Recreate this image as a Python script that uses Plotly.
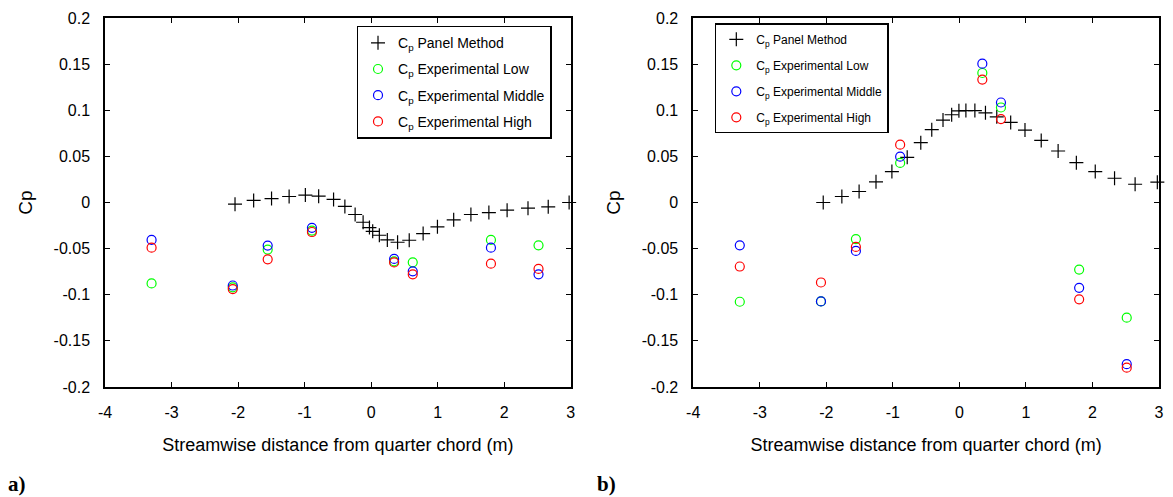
import plotly.graph_objects as go
from plotly.subplots import make_subplots

# ---------------- data ----------------
# experimental tap locations (m from quarter chord)
exp_x = [-3.30, -2.08, -1.555, -0.89, 0.345, 0.625, 1.80, 2.515]

# panel a)
panel_a_x = [-2.046, -1.766, -1.497, -1.233, -0.989, -0.789, -0.565, -0.395, -0.241,
             -0.121, -0.026, 0.023, 0.123, 0.243, 0.397, 0.572, 0.781, 0.996, 1.240,
             1.499, 1.769, 2.043, 2.357, 2.661, 2.975]
panel_a_cp = [-0.0018, 0.0022, 0.0043, 0.0065, 0.0080, 0.0069, 0.0033, -0.0043, -0.0130,
              -0.0214, -0.0272, -0.0312, -0.0355, -0.0406, -0.0431, -0.0409, -0.0337,
              -0.0264, -0.0188, -0.0130, -0.0109, -0.0083, -0.0062, -0.0047, 0.0]
a_low = [-0.0877, -0.092, -0.051, -0.0304, -0.0638, -0.0649, -0.0406, -0.0464]
a_mid = [-0.0406, -0.090, -0.0467, -0.0275, -0.0612, -0.0746, -0.049, -0.0779]
a_high = [-0.049, -0.0938, -0.0616, -0.032, -0.065, -0.0779, -0.0663, -0.072]

# panel b)
panel_b_x = [-2.046, -1.766, -1.507, -1.253, -1.014, -0.784, -0.580, -0.415, -0.246,
             -0.116, -0.007, 0.098, 0.233, 0.392, 0.562, 0.771, 0.986, 1.230, 1.484,
             1.758, 2.042, 2.332, 2.641, 2.975]
panel_b_cp = [0.0, 0.0065, 0.0119, 0.0224, 0.0335, 0.0490, 0.0648, 0.0789, 0.0893,
              0.0951, 0.0994, 0.0997, 0.0997, 0.0972, 0.0929, 0.0868, 0.0785, 0.0673,
              0.0558, 0.0432, 0.0335, 0.0263, 0.0198, 0.0220]
b_low = [-0.1076, -0.1072, -0.0396, 0.0429, 0.1404, 0.1030, -0.0727, -0.1249]
b_mid = [-0.0464, -0.1072, -0.0525, 0.0497, 0.1505, 0.1084, -0.0925, -0.1753]
b_high = [-0.0694, -0.0867, -0.0482, 0.0627, 0.1332, 0.0904, -0.105, -0.179]

series_names = ["C<sub>p</sub> Panel Method", "C<sub>p</sub> Experimental Low",
                "C<sub>p</sub> Experimental Middle", "C<sub>p</sub> Experimental High"]
x_ticks = [-4, -3, -2, -1, 0, 1, 2, 3]
x_tick_text = ["-4", "-3", "-2", "-1", "0", "1", "2", "3"]
y_ticks = [-0.2, -0.15, -0.1, -0.05, 0, 0.05, 0.1, 0.15, 0.2]
y_tick_text = ["-0.2", "-0.15", "-0.1", "-0.05", "0", "0.05", "0.1", "0.15", "0.2"]
x_title = "Streamwise distance from quarter chord (m)"
y_title = "Cp"

colors = ["black", "#00ff00", "#0000ff", "#ff0000"]

W, H = 1173, 497
ML, MR, MT, MB = 105, 9, 18, 110
PW = W - ML - MR
PH = H - MT - MB

fig = make_subplots(rows=1, cols=2)
fig.update_xaxes(domain=[0, (573 - ML) / PW], row=1, col=1)
fig.update_xaxes(domain=[(696 - ML) / PW, 1], row=1, col=2)

panels = [
    (panel_a_x, panel_a_cp, [a_low, a_mid, a_high], "legend", 1),
    (panel_b_x, panel_b_cp, [b_low, b_mid, b_high], "legend2", 2),
]
for px, pcp, exps, leg, col in panels:
    fig.add_trace(go.Scatter(
        x=px, y=pcp, mode="markers", name=series_names[0], legend=leg,
        legendgroup=f"{leg}0", cliponaxis=False,
        marker=dict(symbol="cross-thin-open", size=10, color=colors[0],
                    line=dict(width=1.2, color=colors[0]))), row=1, col=col)
    for i, ys in enumerate(exps):
        fig.add_trace(go.Scatter(
            x=exp_x, y=ys, mode="markers", name=series_names[i + 1], legend=leg,
            legendgroup=f"{leg}{i+1}", cliponaxis=False,
            marker=dict(symbol="circle-open", size=9, color=colors[i + 1],
                        line=dict(width=1.2, color=colors[i + 1]))), row=1, col=col)

axis_font = dict(family="Liberation Sans, Arial, sans-serif", size=16, color="black")
fig.update_xaxes(range=[-4, 3], tickvals=x_ticks, ticktext=x_tick_text, ticks="inside",
                 ticklen=5, tickcolor="black", showline=True, linecolor="black",
                 linewidth=1.5, mirror="ticks", showgrid=False, zeroline=False,
                 tickfont=axis_font, ticklabelstandoff=10,
                 title=dict(text=x_title, font=dict(size=18, family=axis_font["family"],
                                                    color="black"), standoff=18))
fig.update_yaxes(range=[-0.2, 0.2], tickvals=y_ticks, ticktext=y_tick_text,
                 ticks="inside", ticklen=5, tickcolor="black", showline=True,
                 linecolor="black", linewidth=1.5, mirror="ticks", showgrid=False,
                 zeroline=False, tickfont=axis_font, ticklabelstandoff=10,
                 title=dict(text=y_title, font=dict(size=19, family=axis_font["family"],
                                                    color="black"), standoff=16))

fig.update_layout(
    width=W, height=H, margin=dict(l=ML, r=MR, t=MT, b=MB),
    paper_bgcolor="white", plot_bgcolor="white",
    legend=dict(x=(357.7 - ML) / PW, y=(H - MB - 25.7) / PH, xanchor="left",
                yanchor="top", bordercolor="black", borderwidth=1.5,
                bgcolor="white", traceorder="grouped", tracegroupgap=5,
                font=dict(family=axis_font["family"], size=14, color="black")),
    legend2=dict(x=(717.7 - ML) / PW, y=(H - MB - 23.3) / PH, xanchor="left",
                 yanchor="top", bordercolor="black", borderwidth=1.5,
                 bgcolor="white", traceorder="grouped", tracegroupgap=7,
                 font=dict(family=axis_font["family"], size=12, color="black")),
    annotations=[
        dict(text="<b>a)</b>", xref="paper", yref="paper", x=(17 - ML) / PW,
             y=(H - MB - 484) / PH, xanchor="center", yanchor="middle",
             showarrow=False,
             font=dict(family="Liberation Serif, Times New Roman, serif", size=21,
                       color="black")),
        dict(text="<b>b)</b>", xref="paper", yref="paper", x=(609 - ML) / PW,
             y=(H - MB - 484) / PH, xanchor="center", yanchor="middle",
             showarrow=False,
             font=dict(family="Liberation Serif, Times New Roman, serif", size=21,
                       color="black")),
    ],
)

fig.write_html("out.html")
